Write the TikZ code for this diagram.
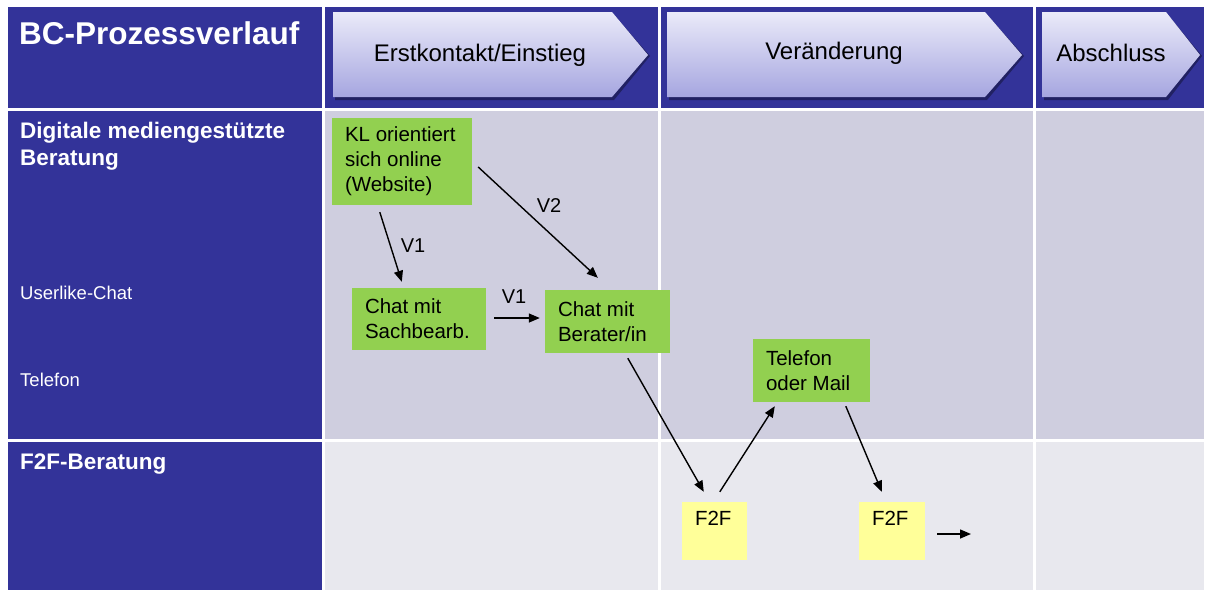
\documentclass[tikz,border=0pt]{standalone}
\usepackage{fontspec}
\setmainfont{Liberation Sans}
\usetikzlibrary{arrows.meta,calc}
\definecolor{dblue}{HTML}{333399}
\definecolor{rowA}{HTML}{CFCEDF}
\definecolor{rowB}{HTML}{E8E8EE}
\definecolor{gfill}{HTML}{92D050}
\definecolor{yfill}{HTML}{FFFF99}
\definecolor{arrTop}{HTML}{EAEAF9}
\definecolor{arrBot}{HTML}{A6A6E0}
\hyphenpenalty=10000
\exhyphenpenalty=10000
\begin{document}
\begin{tikzpicture}[x=1pt,y=-1pt,
  gbox/.style={fill=gfill, inner xsep=13pt, inner ysep=0pt, align=flush left,
    font=\fontsize{20.5}{25}\selectfont},
  ybox/.style={gbox, fill=yfill},
  phasetext/.style={font=\fontsize{24}{28}\selectfont, text=black, inner sep=0pt},
  rowhead/.style={font=\fontsize{22.5}{27}\selectfont\bfseries, text=white, align=left, anchor=north west, inner sep=0pt},
  rowsub/.style={font=\fontsize{18.5}{22}\selectfont, text=white, anchor=base west, inner sep=0pt},
  conn/.style={line width=1.4pt, -{Triangle[length=11pt,width=9pt]}},
  lab/.style={font=\fontsize{20}{24}\selectfont, inner sep=0pt}]
\useasboundingbox (0,0) rectangle (1206,590);
\fill[white] (0,0) rectangle (1206,590);
% header row
\fill[dblue] (8,7) rectangle (322,108);
\fill[dblue] (325,7) rectangle (658,108);
\fill[dblue] (661,7) rectangle (1033,108);
\fill[dblue] (1036,7) rectangle (1204,108);
% row 2
\fill[dblue] (8,111) rectangle (322,439);
\fill[rowA] (325,111) rectangle (658,439);
\fill[rowA] (661,111) rectangle (1033,439);
\fill[rowA] (1036,111) rectangle (1204,439);
% row 3
\fill[dblue] (8,442) rectangle (322,590);
\fill[rowB] (325,442) rectangle (658,590);
\fill[rowB] (661,442) rectangle (1033,590);
\fill[rowB] (1036,442) rectangle (1204,590);
% phase arrows
\foreach \l/\s/\t in {333/612/648, 667/985/1022, 1042/1166/1200}{
  \fill[black, opacity=0.35] (\l+2,15) -- (\s+2,15) -- (\t+2,56) -- (\s+2,100) -- (\l+2,100) -- cycle;
  \shade[top color=arrTop, bottom color=arrBot] (\l,12) -- (\s,12) -- (\t,55) -- (\s,97) -- (\l,97) -- cycle;
}
\node[phasetext] (ph1) at (480,55) {Erstkontakt/Einstieg};
\node[phasetext] (ph2) at (834,53) {Veränderung};
\node[phasetext] (ph3) at (1111,53) {Abschluss};
% title and row labels
\node[font=\fontsize{31.5}{36}\selectfont\bfseries, text=white, anchor=base west, inner sep=0pt] (title) at (19,44) {BC-Prozessverlauf};
\node[rowhead] (r1) at (20,122) {Digitale mediengestützte\\Beratung};
\node[rowsub] (r1a) at (20,299) {Userlike-Chat};
\node[rowsub] (r1b) at (20,386) {Telefon};
\node[rowhead] (r2) at (20,454) {F2F-Beratung};
% boxes
\node[gbox, text width=114pt, minimum height=87pt] (kl) at (402,161.5) {KL orientiert\\sich online\\(Website)};
\node[gbox, text width=108pt, minimum height=62pt] (sach) at (419,319) {Chat mit\\Sachbearb.};
\node[gbox, text width=99pt, minimum height=63pt] (ber) at (607.5,321.5) {Chat mit\\Berater/in};
\node[gbox, text width=91pt, minimum height=63pt] (tel) at (811.5,370.5) {Telefon\\oder Mail};
\node[ybox, text width=39pt, minimum height=58pt] (f1) at (714.5,531) {F2F\\\mbox{}};
\node[ybox, text width=40pt, minimum height=58pt] (f2) at (892,531) {F2F\\\mbox{}};
\coordinate (out) at (971,534);
% connectors
\draw[conn] ($(kl.south west)+(48,7)$) -- ($(sach.north west)+(50,-6)$);
\draw[conn] ($(kl.east)+(6,5.5)$) -- ($(ber.north west)+(53,-12)$);
\draw[conn] ($(sach.east)+(8,-1)$) -- ($(ber.west)+(-5,-3.5)$);
\draw[conn] ($(ber.south west)+(83,5)$) -- ($(f1.north west)+(22,-10)$);
\draw[conn] ($(f1.north west)+(38,-10)$) -- ($(tel.south west)+(22,4)$);
\draw[conn] ($(tel.south west)+(93,4)$) -- ($(f2.north west)+(23,-10)$);
\draw[conn] ($(f2.east)+(12,3)$) -- (out);
% labels
\node[lab] (v1a) at (413,246) {V1};
\node[lab] (v2) at (549,206) {V2};
\node[lab] (v1b) at (514,297) {V1};
\end{tikzpicture}
\end{document}
